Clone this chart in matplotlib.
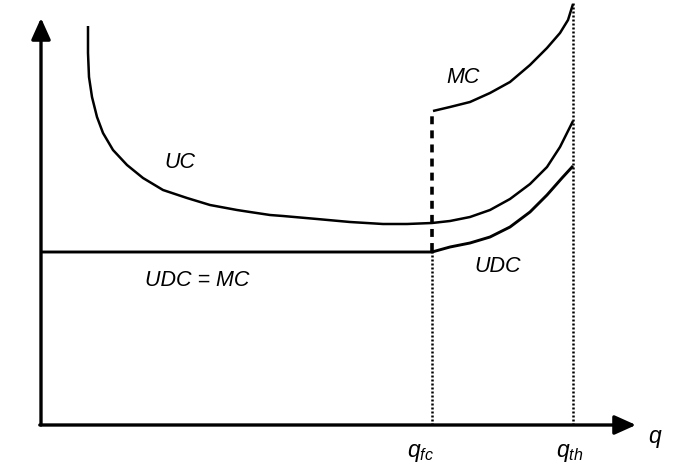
import numpy as np
import matplotlib
matplotlib.use('Agg')
import matplotlib.pyplot as plt

plt.rcParams['font.family'] = ['Liberation Sans', 'DejaVu Sans']
plt.rcParams['mathtext.fontset'] = 'custom'
plt.rcParams['mathtext.it'] = 'Liberation Sans:italic'
plt.rcParams['mathtext.rm'] = 'Liberation Sans'

H = 474  # высота картинки, y считаем снизу

# точки кривых (x, y в пикселях сверху)
uc_x = [88, 88, 89, 92, 97, 103, 113, 127, 143, 163, 187, 210, 237, 250, 270, 283,
        317, 350, 383, 407, 432, 450, 470, 490, 510, 530, 547, 560, 573]
uc_y = [26, 53, 77, 97, 117, 133, 150, 165, 178, 190, 198, 205, 210, 212, 215, 216,
        219, 222, 224, 224, 223, 221, 217, 210, 199, 184, 167, 147, 121]

udc_x = [41, 432, 450, 470, 490, 510, 530, 547, 562, 573]
udc_y = [252, 252, 247, 243, 237, 227, 212, 195, 178, 166]

mc_x = [433, 450, 470, 490, 510, 530, 547, 560, 568, 573]
mc_y = [111, 107, 102, 93, 82, 65, 48, 33, 20, 4]

q_fc = 432
q_th = 573

fig = plt.figure(figsize=(6.79, 4.74), dpi=100)
ax = fig.add_axes([0, 0, 1, 1])
ax.set_xlim(0, 679)
ax.set_ylim(0, H)
ax.axis('off')

def fy(v):
    return H - np.array(v, dtype=float)

# оси со стрелками
arrow = dict(arrowstyle='-|>,head_length=1.0,head_width=0.45', lw=2.4, color='black',
             mutation_scale=13, shrinkA=0, shrinkB=0)
ax.annotate('', xy=(41, H - 18), xytext=(41, H - 425), arrowprops=arrow)
ax.annotate('', xy=(636, H - 425), xytext=(39.8, H - 425), arrowprops=arrow)

# вертикальные пунктиры
ax.plot([q_fc, q_fc], fy([425, 252]), color='black', lw=1.8, ls=(0, (0.8, 0.8)))
ax.plot([q_fc, q_fc], fy([251, 113]), color='black', lw=2.6, ls=(0, (2.2, 1.7)))
ax.plot([q_th, q_th], fy([425, 3]), color='black', lw=1.8, ls=(0, (0.8, 0.8)))

# кривые
kw = dict(color='black', solid_capstyle='butt', solid_joinstyle='round')
ax.plot(uc_x, fy(uc_y), lw=1.8, **kw)
ax.plot(udc_x, fy(udc_y), lw=2.1, **kw)
ax.plot(mc_x, fy(mc_y), lw=1.8, **kw)

# подписи
fs = 15.5
ax.text(180, H - 162, 'UC', style='italic', fontsize=fs, ha='center', va='center')
ax.text(197, H - 281, 'UDC = MC', style='italic', fontsize=fs, ha='center', va='center')
ax.text(463, H - 77, 'MC', style='italic', fontsize=fs, ha='center', va='center')
ax.text(498, H - 267, 'UDC', style='italic', fontsize=fs, ha='center', va='center')
ax.text(655, H - 438, r'$q$', fontsize=fs + 1, ha='center', va='center')
ax.text(420, H - 452, r'$q_{fc}$', fontsize=fs + 1, ha='center', va='center')
ax.text(570, H - 452, r'$q_{th}$', fontsize=fs + 1, ha='center', va='center')

fig.savefig('out.png', dpi=100)
